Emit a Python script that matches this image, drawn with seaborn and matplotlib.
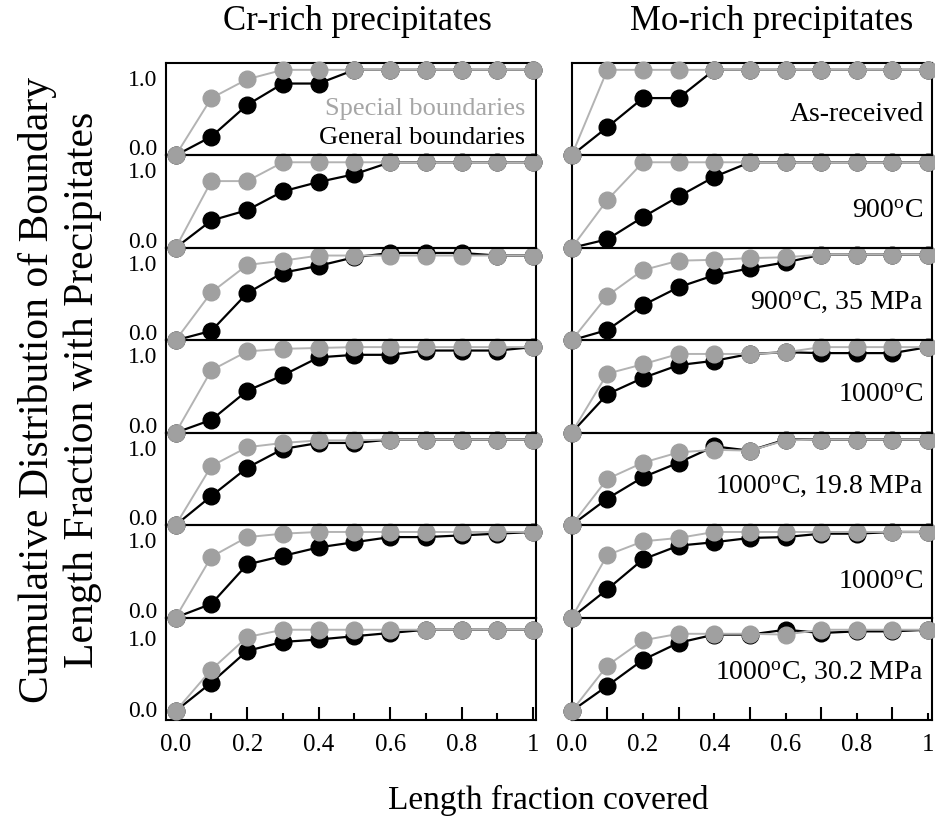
import numpy as np
import pandas as pd
import matplotlib
matplotlib.use("Agg")
import matplotlib.pyplot as plt
import seaborn as sns

# ---------------- data ----------------
x_frac = [0.0, 0.1, 0.2, 0.3, 0.4, 0.5, 0.6, 0.7, 0.8, 0.9, 1.0]

conditions = ["As-received",
              "900$^{\\rm o}$C",
              "900$^{\\rm o}$C, 35 MPa",
              "1000$^{\\rm o}$C",
              "1000$^{\\rm o}$C, 19.8 MPa",
              "1000$^{\\rm o}$C",
              "1000$^{\\rm o}$C, 30.2 MPa"]

cr_special = [
    [0, 0.67, 0.89, 1, 1, 1, 1, 1, 1, 1, 1],
    [0, 0.78, 0.78, 1, 1, 1, 1, 1, 1, 1, 1],
    [0, 0.56, 0.88, 0.93, 0.99, 0.99, 0.99, 0.99, 0.99, 0.99, 0.99],
    [0, 0.73, 0.95, 0.98, 0.99, 1, 1, 1, 1, 1, 1],
    [0, 0.69, 0.91, 0.96, 0.99, 0.99, 1, 1, 1, 1, 1],
    [0, 0.71, 0.94, 0.98, 1, 1, 1, 1, 1, 1, 1],
    [0, 0.51, 0.91, 1, 1, 1, 1, 1, 1, 1, 1],
]
cr_general = [
    [0, 0.22, 0.59, 0.84, 0.84, 1, 1, 1, 1, 1, 1],
    [0, 0.32, 0.44, 0.66, 0.77, 0.86, 1, 1, 1, 1, 1],
    [0, 0.11, 0.55, 0.79, 0.87, 0.97, 1.02, 1.02, 1.02, 0.99, 0.99],
    [0, 0.15, 0.49, 0.67, 0.88, 0.91, 0.91, 0.96, 0.96, 0.96, 1],
    [0, 0.34, 0.67, 0.89, 0.96, 0.96, 1, 1, 1, 1, 1],
    [0, 0.16, 0.62, 0.72, 0.82, 0.88, 0.94, 0.94, 0.96, 0.98, 1],
    [0, 0.35, 0.74, 0.85, 0.88, 0.92, 0.96, 1, 1, 1, 1],
]
mo_special = [
    [0, 1, 1, 1, 1, 1, 1, 1, 1, 1, 1],
    [0, 0.56, 1, 1, 1, 1, 1, 1, 1, 1, 1],
    [0, 0.52, 0.82, 0.93, 0.94, 0.96, 0.97, 1, 1, 1, 1],
    [0, 0.69, 0.80, 0.92, 0.92, 0.92, 0.94, 1, 1, 1, 1],
    [0, 0.54, 0.73, 0.85, 0.88, 0.87, 0.99, 1, 1, 1, 1],
    [0, 0.73, 0.89, 0.93, 1, 1, 1, 1, 1, 1, 1],
    [0, 0.56, 0.87, 0.95, 0.95, 0.95, 0.94, 1, 1, 1, 1],
]
mo_general = [
    [0, 0.33, 0.67, 0.67, 1, 1, 1, 1, 1, 1, 1],
    [0, 0.10, 0.36, 0.60, 0.83, 1, 1, 1, 1, 1, 1],
    [0, 0.12, 0.41, 0.62, 0.76, 0.84, 0.91, 1, 1, 1, 1],
    [0, 0.45, 0.64, 0.79, 0.84, 0.92, 0.94, 0.93, 0.93, 0.93, 1],
    [0, 0.31, 0.56, 0.73, 0.92, 0.87, 1, 1, 1, 1, 1],
    [0, 0.33, 0.68, 0.84, 0.88, 0.93, 0.94, 0.98, 0.98, 1, 1],
    [0, 0.31, 0.63, 0.84, 0.94, 0.94, 1.0, 0.96, 0.98, 0.98, 1],
]
cond_y = [0.48, 0.42, 0.44, 0.43, 0.45, 0.41, 0.48]

x_tick_values = [0.0, 0.2, 0.4, 0.6, 0.8, 1.0]
x_tick_labels = ["0.0", "0.2", "0.4", "0.6", "0.8", "1"]
x_odd_ticks = [0.1, 0.3, 0.5, 0.7, 0.9]

# ---------------- style ----------------
sns.set_theme(style="ticks")
plt.rcParams.update({
    "font.family": ["Liberation Serif", "DejaVu Serif"],
    "mathtext.fontset": "custom",
    "mathtext.rm": "Liberation Serif",
    "mathtext.it": "Liberation Serif:italic",
    "mathtext.bf": "Liberation Serif:bold",
    "axes.edgecolor": "black",
    "axes.linewidth": 1.5,
    "xtick.color": "black",
    "ytick.color": "black",
    "text.color": "black",
})

GRAY_LINE = "#b3b3b3"
GRAY_MARK = "#a0a0a0"

fig = plt.figure(figsize=(9.35, 8.25), dpi=100)
W, H = 935.0, 825.0
ratios = [92] * 6 + [102]
gsL = fig.add_gridspec(7, 1, left=166 / W, right=536 / W, top=1 - 63 / H,
                       bottom=1 - 720 / H, hspace=0, height_ratios=ratios)
gsR = fig.add_gridspec(7, 1, left=571.7 / W, right=931.7 / W, top=1 - 63 / H,
                       bottom=1 - 720 / H, hspace=0, height_ratios=ratios)

columns = [
    (gsL, cr_special, cr_general, (-0.027, 1.008), "left"),
    (gsR, mo_special, mo_general, (0.0, 1.01), "right"),
]

for gs, special, general, xlim, side in columns:
    for i in range(7):
        ax = fig.add_subplot(gs[i])
        ax.set_zorder(10 - i)
        ax.patch.set_alpha(0)
        df = pd.DataFrame({"x": x_frac, "Special": special[i], "General": general[i]})
        sns.lineplot(data=df, x="x", y="General", ax=ax, color="black",
                     marker="o", markersize=12, markerfacecolor="black",
                     markeredgecolor="black", markeredgewidth=1,
                     linewidth=1.6, clip_on=False, zorder=3, legend=False)
        sns.lineplot(data=df, x="x", y="Special", ax=ax, color=GRAY_LINE,
                     marker="o", markersize=12, markerfacecolor=GRAY_MARK,
                     markeredgecolor=GRAY_MARK, markeredgewidth=1,
                     linewidth=1.4, clip_on=False, zorder=4, legend=False)
        ax.set_xlim(*xlim)
        last = (i == 6)
        if last:
            ax.set_ylim(-0.11, 1.15)
        else:
            ax.set_ylim(0, 1.08)
        ax.set_xlabel("")
        ax.set_ylabel("")
        for sp in ax.spines.values():
            sp.set_visible(True)
            sp.set_linewidth(1.5)
            sp.set_color("black")

        # y ticks
        ax.set_yticks([0, 1])
        ax.tick_params(axis="y", length=0, pad=6.5, labelsize=17)
        if side == "left":
            ax.set_yticklabels(["0.0", "1.0"])
            yt = ax.yaxis.get_major_ticks()
            yt[0].label1.set_va("center" if last else "baseline")
            yt[1].label1.set_va("top")
        else:
            ax.set_yticklabels([])

        # x ticks
        if not last:
            ax.set_xticks([])
        else:
            if side == "left":
                ax.set_xticks(x_tick_values, labels=x_tick_labels)
                ax.set_xticks(x_odd_ticks, minor=True)
                ax.tick_params(axis="x", which="major", direction="in", length=9.5,
                               width=1.5, labelsize=18, pad=10, bottom=True)
                ax.tick_params(axis="x", which="minor", direction="in", length=5,
                               width=1.5, bottom=True)
            else:
                ax.set_xticks(x_odd_ticks, labels=[""] * len(x_odd_ticks))
                ax.set_xticks(x_tick_values, labels=x_tick_labels, minor=True)
                ax.tick_params(axis="x", which="major", direction="in", length=9.5,
                               width=1.5, bottom=True, labelbottom=False)
                ax.tick_params(axis="x", which="minor", direction="in", length=5,
                               width=1.5, labelsize=18, pad=10, bottom=True,
                               labelbottom=True)

        if side == "right":
            ax.text(0.987, cond_y[i], conditions[i], ha="right", va="center",
                    fontsize=20, zorder=5)
        elif i == 0:
            ax.text(0.978, 0.54, "Special boundaries", ha="right", va="center",
                    fontsize=19, color="#a6a6a6", zorder=5)
            ax.text(0.978, 0.20, "General boundaries", ha="right", va="center",
                    fontsize=19, color="black", zorder=5)

# titles and axis labels
fig.text(357 / W, 1 - 22 / H, "Cr-rich precipitates", ha="center", va="center", fontsize=25)
fig.text(772 / W, 1 - 22 / H, "Mo-rich precipitates", ha="center", va="center", fontsize=25)
fig.text(60 / W, 1 - 390 / H,
         "Cumulative Distribution of Boundary\nLength Fraction with Precipitates",
         rotation=90, ha="center", va="center", multialignment="center",
         fontsize=30, linespacing=1.2)
fig.text(548 / W, 1 - 800 / H, "Length fraction covered", ha="center", va="center",
         fontsize=24)

fig.savefig("out.png", dpi=100)
